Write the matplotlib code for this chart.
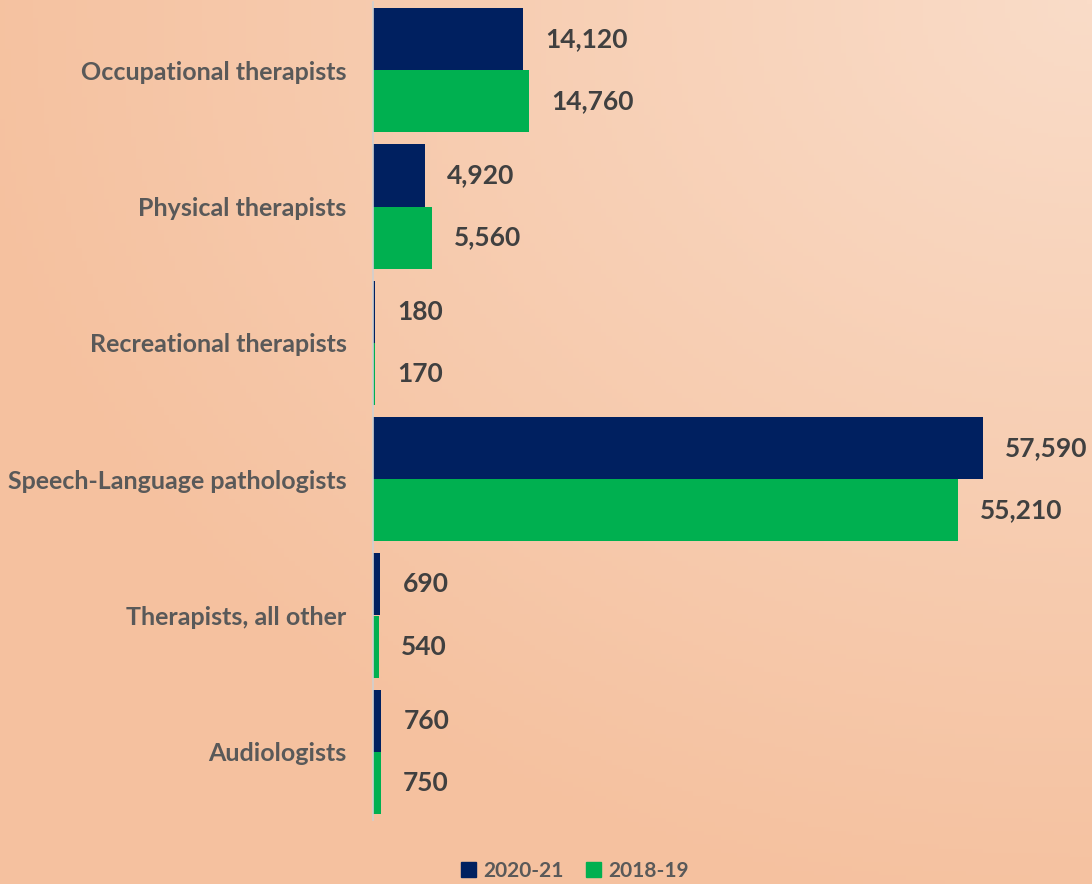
import numpy as np
import matplotlib
matplotlib.use('Agg')
import matplotlib.pyplot as plt
from matplotlib.patches import Patch

# data
categories = ["Occupational therapists", "Physical therapists", "Recreational therapists",
              "Speech-Language pathologists", "Therapists, all other", "Audiologists"]
vals_2021 = [14120, 4920, 180, 57590, 690, 760]
vals_2019 = [14760, 5560, 170, 55210, 540, 750]
series_names = ["2020-21", "2018-19"]

NAVY = "#002060"
GREEN = "#00B050"
LABEL_GRAY = "#595959"
VALUE_GRAY = "#404040"

plt.rcParams['font.family'] = ['Lato', 'DejaVu Sans']

fig = plt.figure(figsize=(10.92, 8.84), dpi=100)

# soft peach gradient background, lightest at the top-right corner
bg = fig.add_axes([0, 0, 1, 1], zorder=-1)
yy, xx = np.mgrid[0:1:200j, 0:1:200j]
t = np.sqrt((1 - xx) ** 2 + (1 - yy) ** 2) / np.sqrt(2)
t = np.clip(t * 1.35, 0, 1)
light = np.array([250, 220, 200]) / 255
dark = np.array([245, 193, 159]) / 255
img = light[None, None, :] * (1 - t[..., None]) + dark[None, None, :] * t[..., None]
bg.imshow(img, extent=[0, 1, 0, 1], origin='lower', aspect='auto')
bg.axis('off')

ax = fig.add_axes([373 / 1092, 1 - 820 / 884, (1085 - 373) / 1092, 818 / 884])
ax.set_facecolor('none')

y = np.arange(len(categories))
h = 0.455
ax.barh(y - h / 2, vals_2021, height=h, color=NAVY, label=series_names[0])
ax.barh(y + h / 2, vals_2019, height=h, color=GREEN, label=series_names[1])

for yi, v in list(zip(y - h / 2, vals_2021)) + list(zip(y + h / 2, vals_2019)):
    ax.annotate(f"{v:,}", (v, yi), xytext=(16, 0), textcoords='offset points',
                va='center', ha='left', fontsize=19, fontweight='bold', color=VALUE_GRAY)

ax.set_xlim(0, (1085 - 373) / (610 / 57590))
ax.set_ylim(len(categories) - 0.5, -0.5)
ax.set_yticks(y)
ax.set_yticklabels(categories, fontsize=18, fontweight='bold', color=LABEL_GRAY)
ax.tick_params(axis='y', length=0, pad=19)
ax.set_xticks([])
for s in ['top', 'right', 'bottom']:
    ax.spines[s].set_visible(False)
ax.spines['left'].set_color('#D0D0D0')
ax.spines['left'].set_linewidth(1.2)

handles = [Patch(color=NAVY, label=series_names[0]), Patch(color=GREEN, label=series_names[1])]
leg = fig.legend(handles=handles, loc='center', bbox_to_anchor=(575 / 1092, 1 - 871 / 884),
                 ncol=2, frameon=False, handlelength=0.7, handleheight=0.7,
                 handletextpad=0.35, columnspacing=1.1,
                 prop={'size': 15, 'weight': 'bold'})
for txt in leg.get_texts():
    txt.set_color(LABEL_GRAY)

fig.savefig("out.png", dpi=100)
plt.close(fig)
